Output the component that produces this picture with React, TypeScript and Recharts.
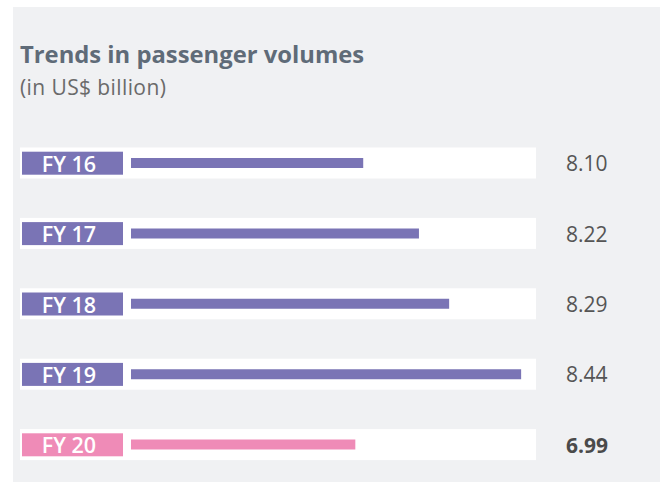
import React from "react";
import { BarChart, Bar, XAxis, YAxis, Cell } from "recharts";

const years = ["FY 16", "FY 17", "FY 18", "FY 19", "FY 20"];
const valueLabels = ["8.10", "8.22", "8.29", "8.44", "6.99"];
// bar lengths as drawn in the picture (FY 20 is not drawn to scale)
const barValues = [8.1, 8.22, 8.285, 8.44, 8.083];
const highlight = [false, false, false, false, true];

const data = years.map((y, i) => ({
  year: y,
  label: valueLabels[i],
  bar: barValues[i],
  hl: highlight[i],
}));

const PURPLE = "#7a74b5";
const PINK = "#ef8bb7";
const FONT = "'Open Sans', Lato, sans-serif";

const RowBackground = (props: any) => {
  const { x, y, height } = props;
  const cy = y + height / 2;
  return <rect x={x - 111} y={cy - 15.5} width={516} height={31} fill="#ffffff" />;
};

const LeftTick = (props: any) => {
  const { x, y, payload, index } = props;
  const hl = data[index]?.hl;
  return (
    <g>
      <rect x={x - 109} y={y - 11.5} width={101} height={23} fill={hl ? PINK : PURPLE} />
      <text
        x={x - 62}
        y={y + 8.5}
        textAnchor="middle"
        fill="#ffffff"
        fontFamily={FONT}
        fontWeight={600}
        fontSize={21.5}
      >
        {payload.value}
      </text>
    </g>
  );
};

const RightTick = (props: any) => {
  const { x, y, index } = props;
  const hl = data[index]?.hl;
  return (
    <text
      x={x + 17}
      y={y + 8}
      textAnchor="start"
      fill={hl ? "#4a4a4a" : "#555555"}
      fontFamily={FONT}
      fontWeight={hl ? 700 : 400}
      fontSize={21}
    >
      {data[index]?.label}
    </text>
  );
};

export default function App() {
  return (
    <div style={{ position: "absolute", left: 0, top: 0, width: 660, height: 482, background: "#ffffff", overflow: "hidden" }}>
      <div style={{ position: "absolute", left: 13, top: 7, width: 647, height: 475, background: "#f0f1f3" }} />
      <svg width={660} height={120} style={{ position: "absolute", left: 0, top: 0 }}>
        <text x={20} y={63} fontFamily={FONT} fontWeight={700} fontSize={23.8} fill="#5f6b78">
          Trends in passenger volumes
        </text>
        <text x={20} y={95} fontFamily={FONT} fontWeight={400} fontSize={21} letterSpacing={0.4} fill="#6a6a6a">
          (in US$ billion)
        </text>
      </svg>
      <div style={{ position: "absolute", left: 0, top: 0 }}>
        <BarChart
          width={660}
          height={482}
          data={data}
          layout="vertical"
          margin={{ top: 128, right: 0, bottom: 2, left: 0 }}
        >
          <XAxis type="number" domain={[7.6, 8.5]} hide allowDataOverflow />
          <Bar
            dataKey="bar"
            barSize={10}
            isAnimationActive={false}
            background={(p: any) => <RowBackground key={`bg-${p.index}`} {...p} />}
          >
            {data.map((d, i) => (
              <Cell key={i} fill={d.hl ? PINK : PURPLE} />
            ))}
          </Bar>
          <YAxis
            yAxisId={0}
            type="category"
            dataKey="year"
            orientation="left"
            width={131}
            axisLine={false}
            tickLine={false}
            tickSize={0}
            tickMargin={0}
            tick={<LeftTick />}
          />
          <YAxis
            yAxisId="right"
            type="category"
            dataKey="year"
            orientation="right"
            width={111}
            axisLine={false}
            tickLine={false}
            tickSize={0}
            tickMargin={0}
            tick={<RightTick />}
          />
        </BarChart>
      </div>
    </div>
  );
}
